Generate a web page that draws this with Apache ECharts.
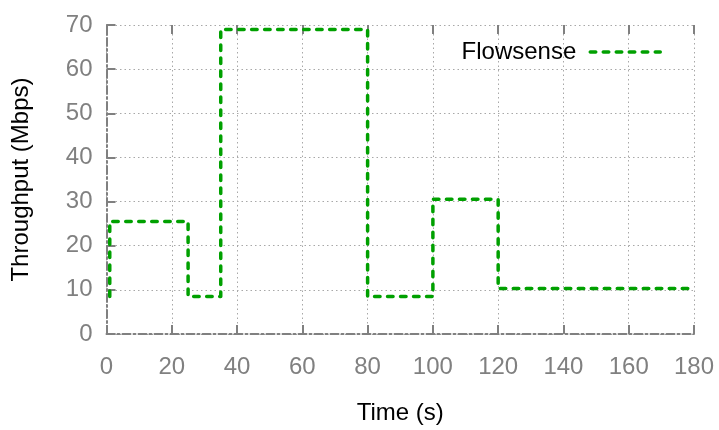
<!DOCTYPE html>
<html>
<head>
<meta charset="utf-8">
<script src="https://cdn.jsdelivr.net/npm/echarts@6/dist/echarts.min.js"></script>
<style>
  html, body { margin: 0; padding: 0; background: #ffffff; }
  #chart { width: 719px; height: 430px; }
</style>
</head>
<body>
<div id="chart"></div>
<script>
// Flowsense throughput trace: vertices of the step curve (time in s, Mbps)
const times = [1, 1, 25, 25, 35, 35, 80, 80, 100, 100, 120, 120, 180];
const throughput = [8.5, 25.5, 25.5, 8.5, 8.5, 69, 69, 8.5, 8.5, 30.5, 30.5, 10.3, 10.3];
const seriesName = 'Flowsense';
const xTitle = 'Time (s)';
const yTitle = 'Throughput (Mbps)';

const FONT = '"Liberation Sans", Arial, Helvetica, sans-serif';
const AXIS_GRAY = '#808080';
const GRID_GRAY = '#a8a8a8';
const GREEN = '#00a000';

const points = times.map((t, i) => [t, throughput[i]]);

const chart = echarts.init(document.getElementById('chart'), null, { renderer: 'canvas' });

const tickStyle = { show: true, inside: true, length: 9, lineStyle: { color: AXIS_GRAY, width: 2 } };
const dashDot = { color: AXIS_GRAY, width: 2, type: [8, 3, 2, 3] };
const dotted = { show: true, lineStyle: { color: GRID_GRAY, width: 1, type: [1.5, 3] } };
const curveStyle = { color: GREEN, width: 3.5, type: [5.5, 7.5], cap: 'round', join: 'round' };

chart.setOption({
  animation: false,
  backgroundColor: '#ffffff',
  textStyle: { fontFamily: FONT },
  grid: { left: 106.5, right: 25, top: 25, bottom: 89.5, containLabel: false },
  legend: {
    data: [seriesName],
    right: 57,
    top: 40,
    padding: 0,
    align: 'right',
    itemWidth: 70,
    itemHeight: 14,
    itemStyle: { opacity: 0 },
    lineStyle: curveStyle,
    textStyle: { fontFamily: FONT, fontSize: 24, color: '#000000', padding: [0, 9, 0, 0] }
  },
  xAxis: [
    {
      type: 'value',
      position: 'bottom',
      min: 0, max: 180, interval: 20,
      name: xTitle,
      nameLocation: 'middle',
      nameGap: 67,
      nameTextStyle: { fontFamily: FONT, fontSize: 24, color: '#000000' },
      axisLine: { show: true, lineStyle: dashDot },
      axisTick: tickStyle,
      axisLabel: { fontFamily: FONT, fontSize: 24, color: AXIS_GRAY, margin: 21 },
      splitLine: dotted
    },
    {
      // mirrored ticks along the top edge
      type: 'value',
      position: 'top',
      min: 0, max: 180, interval: 20,
      axisLine: { show: false },
      axisTick: tickStyle,
      axisLabel: { show: false },
      splitLine: { show: false }
    }
  ],
  yAxis: {
    type: 'value',
    min: 0, max: 70, interval: 10,
    name: yTitle,
    nameLocation: 'middle',
    nameGap: 73,
    nameRotate: 90,
    nameTextStyle: { fontFamily: FONT, fontSize: 24, color: '#000000' },
    axisLine: { show: true, lineStyle: dashDot },
    axisTick: tickStyle,
    axisLabel: { fontFamily: FONT, fontSize: 24, color: AXIS_GRAY, margin: 14 },
    splitLine: dotted
  },
  series: [
    {
      name: seriesName,
      type: 'line',
      xAxisIndex: 0,
      data: points,
      symbol: 'none',
      showSymbol: false,
      lineStyle: curveStyle,
      itemStyle: { color: GREEN },
      z: 5
    }
  ]
});
</script>
</body>
</html>
